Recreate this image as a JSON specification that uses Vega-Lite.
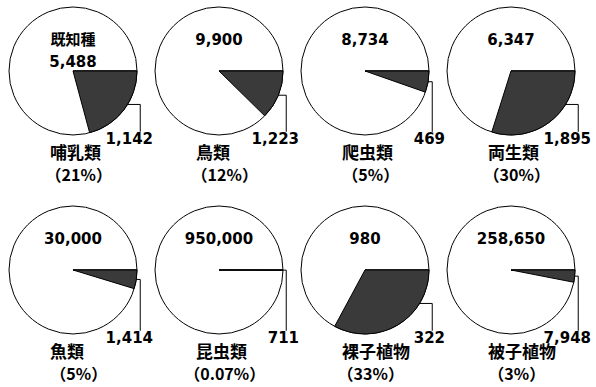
{
  "$schema": "https://vega.github.io/schema/vega-lite/v6.json",
  "padding": 0,
  "background": "white",
  "data": {"values": [
    {"name": "哺乳類", "known": 5488, "threatened": 1142, "knownText": "既知種\n5,488", "pct": "（21%）"},
    {"name": "鳥類", "known": 9900, "threatened": 1223, "knownText": "9,900", "pct": "（12%）"},
    {"name": "爬虫類", "known": 8734, "threatened": 469, "knownText": "8,734", "pct": "（5%）"},
    {"name": "両生類", "known": 6347, "threatened": 1895, "knownText": "6,347", "pct": "（30%）"},
    {"name": "魚類", "known": 30000, "threatened": 1414, "knownText": "30,000", "pct": "（5%）"},
    {"name": "昆虫類", "known": 950000, "threatened": 711, "knownText": "950,000", "pct": "（0.07%）"},
    {"name": "裸子植物", "known": 980, "threatened": 322, "knownText": "980", "pct": "（33%）"},
    {"name": "被子植物", "known": 258650, "threatened": 7948, "knownText": "258,650", "pct": "（3%）"}
  ]},
  "transform": [
    {"calculate": "PI/2 + min(PI*datum.threatened/datum.known, 0.55)", "as": "ang"},
    {"calculate": "sin(datum.ang)", "as": "ax"},
    {"calculate": "cos(datum.ang)", "as": "ay"}
  ],
  "facet": {"field": "name", "type": "nominal", "sort": ["哺乳類", "鳥類", "爬虫類", "両生類", "魚類", "昆虫類", "裸子植物", "被子植物"], "title": null, "header": {"labels": false, "title": null, "labelPadding": 0, "labelFontSize": 0, "labelExpr": "''"}},
  "columns": 4,
  "spacing": {"row": 0, "column": 0},
  "bounds": "flush",
  "resolve": {"scale": {"theta": "independent"}},
  "spec": {
    "width": 146,
    "height": 199,
    "layer": [
      {
        "mark": {"type": "arc", "radius": 64, "fill": "white", "stroke": "black", "strokeWidth": 1},
        "encoding": {
          "x": {"datum": 0, "type": "quantitative", "scale": {"domain": [-1.14, 1.14], "nice": false, "zero": false}, "axis": null},
          "y": {"datum": 0, "type": "quantitative", "scale": {"domain": [-2.0, 1.109], "nice": false, "zero": false}, "axis": null},
          "theta": {"field": "known", "type": "quantitative", "stack": null, "scale": {"range": [1.5707963, 7.8539816], "nice": false, "zero": true}}
        }
      },
      {
        "mark": {"type": "arc", "radius": 64, "fill": "#3a3a3a", "stroke": "black", "strokeWidth": 1},
        "encoding": {
          "x": {"datum": 0, "type": "quantitative"},
          "y": {"datum": 0, "type": "quantitative"},
          "theta": {"field": "threatened", "type": "quantitative", "stack": null}
        }
      },
      {
        "mark": {"type": "rule", "color": "black", "strokeWidth": 1},
        "encoding": {
          "x": {"field": "ax", "type": "quantitative"},
          "x2": {"datum": 1.05},
          "y": {"field": "ay", "type": "quantitative"}
        }
      },
      {
        "mark": {"type": "rule", "color": "black", "strokeWidth": 1},
        "encoding": {
          "x": {"datum": 1.05, "type": "quantitative"},
          "y": {"field": "ay", "type": "quantitative"},
          "y2": {"datum": -0.95}
        }
      },
      {
        "mark": {"type": "text", "font": "DejaVu Sans, Noto Sans CJK JP", "fontSize": 15, "fontWeight": "bold", "align": "center", "baseline": "middle", "lineBreak": "\n", "lineHeight": 22, "color": "black"},
        "encoding": {
          "x": {"datum": 0, "type": "quantitative"},
          "y": {"datum": 0.48, "type": "quantitative"},
          "text": {"field": "knownText", "type": "nominal"}
        }
      },
      {
        "mark": {"type": "text", "font": "DejaVu Sans", "fontSize": 15, "fontWeight": "bold", "align": "right", "baseline": "middle", "color": "black"},
        "encoding": {
          "x": {"datum": 1.25, "type": "quantitative"},
          "y": {"datum": -1.06, "type": "quantitative"},
          "text": {"field": "threatened", "type": "quantitative", "format": ","}
        }
      },
      {
        "mark": {"type": "text", "font": "Noto Sans CJK JP", "fontSize": 17, "fontWeight": "bold", "align": "left", "baseline": "middle", "color": "black"},
        "encoding": {
          "x": {"datum": -0.36, "type": "quantitative"},
          "y": {"datum": -1.29, "type": "quantitative"},
          "text": {"field": "name", "type": "nominal"}
        }
      },
      {
        "mark": {"type": "text", "font": "Noto Sans CJK JP", "fontSize": 16, "fontWeight": "bold", "align": "center", "baseline": "middle", "color": "black"},
        "encoding": {
          "x": {"datum": 0.09, "type": "quantitative"},
          "y": {"datum": -1.64, "type": "quantitative"},
          "text": {"field": "pct", "type": "nominal"}
        }
      }
    ]
  },
  "config": {
    "view": {"stroke": null},
    "header": {"labels": false, "title": null, "labelPadding": 0, "labelFontSize": 0, "labelExpr": "''"},
    "headerFacet": {"labels": false, "title": null, "labelPadding": 0, "labelFontSize": 0, "labelExpr": "''"}
  }
}
